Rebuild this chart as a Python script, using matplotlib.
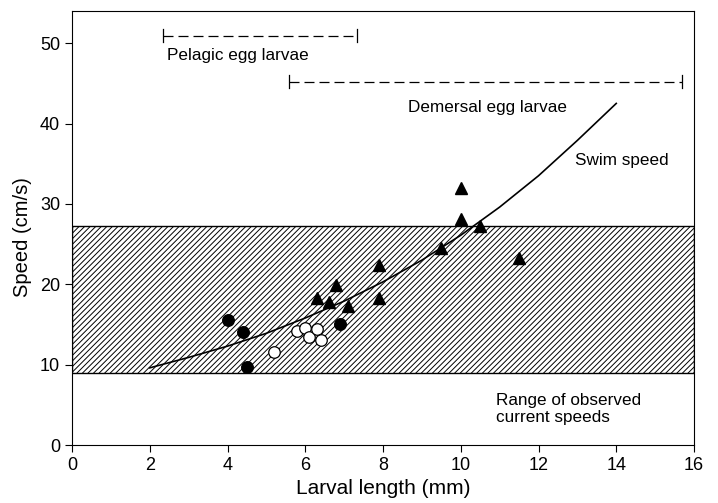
import numpy as np
import matplotlib.pyplot as plt

plt.rcParams['font.family'] = ['Liberation Sans', 'DejaVu Sans']
plt.rcParams['hatch.linewidth'] = 0.7

# filled circles
fc_x = [4.0, 4.4, 4.5, 6.9]
fc_y = [15.5, 14.0, 9.7, 15.0]
# open circles
oc_x = [5.2, 5.8, 6.0, 6.1, 6.3, 6.4]
oc_y = [11.6, 14.2, 14.6, 13.45, 14.4, 13.1]
# triangles
tr_x = [10.0, 10.0, 10.5, 9.5, 11.5, 7.9, 6.8, 6.3, 6.6, 7.1, 7.9]
tr_y = [32.0, 28.1, 27.3, 24.5, 23.3, 22.4, 19.9, 18.3, 17.8, 17.3, 18.3]

# swim speed curve
curve_x = [2, 3, 4, 5, 6, 7, 8, 9, 10, 11, 12, 13, 14]
curve_y = [9.6, 10.9, 12.3, 13.9, 15.8, 17.9, 20.3, 23.0, 26.1, 29.6, 33.5, 37.9, 42.5]

# observed current speed range
current_lo, current_hi = 8.9, 27.2

# size ranges (start, end, height)
pelagic = (2.34, 7.33, 50.9)
demersal = (5.58, 15.7, 45.2)

fig = plt.figure(figsize=(7.18, 5.03), dpi=100)
ax = fig.add_axes([72 / 718, 58 / 503, 622 / 718, 434 / 503])

ax.axhspan(current_lo, current_hi, facecolor='white', edgecolor='black',
           hatch='//////', linewidth=1.0, zorder=1)

ax.plot(curve_x, curve_y, color='black', linewidth=1.2, zorder=3)

ax.plot(fc_x, fc_y, 'o', color='black', markersize=8.3, zorder=4)
ax.plot(oc_x, oc_y, 'o', markerfacecolor='white', markeredgecolor='black',
        markeredgewidth=0.9, markersize=8.3, zorder=4)
ax.plot(tr_x, tr_y, '^', color='black', markersize=8.5, zorder=4)

for x0, x1, y in [pelagic, demersal]:
    ax.plot([x0, x1], [y, y], color='black', linestyle=(0, (8, 4)), linewidth=0.9)
    ax.plot([x0, x0], [y - 0.8, y + 0.8], color='black', linewidth=0.9)
    ax.plot([x1, x1], [y - 0.8, y + 0.8], color='black', linewidth=0.9)

ax.text(2.45, 48.5, 'Pelagic egg larvae', fontsize=12.3, va='center')
ax.text(8.65, 42.0, 'Demersal egg larvae', fontsize=12.3, va='center')
ax.text(12.95, 35.4, 'Swim speed', fontsize=12.3, va='center')
ax.text(10.9, 4.5, 'Range of observed\ncurrent speeds', fontsize=12.3,
        va='center', linespacing=1.12)

ax.set_xlim(0, 16)
ax.set_ylim(0, 54)
ax.set_xticks(range(0, 17, 2))
ax.set_yticks(range(0, 51, 10))
ax.tick_params(direction='out', length=5, labelsize=13)
for lab in ax.get_xticklabels() + ax.get_yticklabels():
    lab.set_family(['Liberation Sans Narrow', 'Liberation Sans'])
ax.set_xlabel('Larval length (mm)', fontsize=15)
ax.set_ylabel('Speed (cm/s)', fontsize=14.5)
ax.yaxis.set_label_coords(-0.064, 0.479)

fig.savefig('out.png', dpi=100)
